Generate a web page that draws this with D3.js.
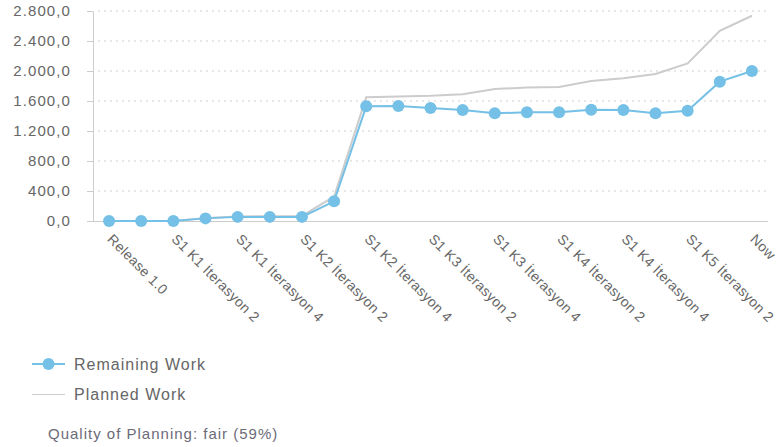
<!DOCTYPE html>
<html>
<head>
<meta charset="utf-8">
<script src="https://cdn.jsdelivr.net/npm/d3@7"></script>
<style>
  body { margin: 0; background: #fff; font-family: "Liberation Sans", Arial, sans-serif; }
  .grid line { stroke: #cfcfcf; stroke-dasharray: 2,4; }
  .axis text { fill: #666; font-size: 14px; letter-spacing: 0.35px; font-family: "Liberation Sans", Arial, sans-serif; }
  .axis.y text { font-size: 15px; letter-spacing: 1.1px; }
</style>
</head>
<body>
<div id="chart"></div>
<script>
// x categories (one per iteration), only every other one gets a label
const iterations = [
  "Release 1.0", "S1 K1 İterasyon 1", "S1 K1 İterasyon 2", "S1 K1 İterasyon 3", "S1 K1 İterasyon 4",
  "S1 K2 İterasyon 1", "S1 K2 İterasyon 2", "S1 K2 İterasyon 3", "S1 K2 İterasyon 4",
  "S1 K3 İterasyon 1", "S1 K3 İterasyon 2", "S1 K3 İterasyon 3", "S1 K3 İterasyon 4",
  "S1 K4 İterasyon 1", "S1 K4 İterasyon 2", "S1 K4 İterasyon 3", "S1 K4 İterasyon 4",
  "S1 K5 İterasyon 1", "S1 K5 İterasyon 2", "S1 K5 İterasyon 3", "Now"
]
const remainingWork = [0, 0, 0, 35, 55, 55, 55, 263, 1529, 1533, 1507, 1480, 1436, 1449, 1449, 1484, 1480, 1436, 1471, 1858, 2000]
const plannedWork = [0, 0, 0, 40, 60, 65, 67, 324, 1649, 1660, 1670, 1690, 1760, 1780, 1787, 1867, 1902, 1960, 2102, 2537, 2737]
const yTicks = [0, 400, 800, 1200, 1600, 2000, 2400, 2800]
const qualityText = "Quality of Planning: fair (59%)"

const width = 779
const height = 447
const margin = {top: 11, left: 93, right: 11}
const plotBottom = 221
const blue = "#74c0e6"
const grey = "#cccccc"

const locale = d3.formatLocale({decimal: ",", thousands: ".", grouping: [3], currency: ["", ""]})
const fmt = locale.format(",.1f")

const svg = d3.select('#chart').append("svg")
  .attr("width", width)
  .attr("height", height)

const xScale = d3.scalePoint()
  .domain(iterations)
  .range([margin.left, width - margin.right])
  .padding(0.5)

const yScale = d3.scaleLinear()
  .domain([0, 2800])
  .range([plotBottom, margin.top])

// dotted grid lines
svg.append("g")
  .attr("class", "grid")
  .selectAll("line")
  .data(yTicks.slice(1))
  .join("line")
  .attr("x1", margin.left + 5)
  .attr("x2", width - margin.right - 2)
  .attr("y1", d => yScale(d))
  .attr("y2", d => yScale(d))

// y axis
const yAxis = svg.append("g")
  .attr("class", "axis y")
  .attr("transform", "translate(" + margin.left + ",0)")
  .call(d3.axisLeft(yScale).tickValues(yTicks).tickFormat(fmt).tickSize(6).tickPadding(16))
yAxis.select(".domain").attr("stroke", grey)
yAxis.selectAll(".tick line").attr("stroke", grey)

// x axis
const labelled = iterations.filter((d, i) => i % 2 === 0)
const xAxis = svg.append("g")
  .attr("class", "axis x")
  .attr("transform", "translate(0," + plotBottom + ")")
  .call(d3.axisBottom(xScale).tickValues(labelled).tickSize(0).tickSizeOuter(0))
xAxis.select(".domain")
  .attr("stroke", grey)
  .attr("d", "M" + (margin.left - 6) + ",0.5H" + (width - margin.right))
xAxis.selectAll(".tick text")
  .attr("text-anchor", "start")
  .attr("dy", null)
  .attr("y", 0)
  .attr("transform", "translate(-3,19) rotate(45)")

// planned work line
svg.append("path")
  .datum(plannedWork)
  .attr("fill", "none")
  .attr("stroke", grey)
  .attr("stroke-width", 2)
  .attr("d", d3.line()
    .x((d, i) => xScale(iterations[i]))
    .y(d => yScale(d)))

// remaining work line + dots
svg.append("path")
  .datum(remainingWork)
  .attr("fill", "none")
  .attr("stroke", blue)
  .attr("stroke-width", 2)
  .attr("d", d3.line()
    .x((d, i) => xScale(iterations[i]))
    .y(d => yScale(d)))

svg.append("g")
  .selectAll("circle")
  .data(remainingWork)
  .join("circle")
  .attr("cx", (d, i) => xScale(iterations[i]))
  .attr("cy", d => yScale(d))
  .attr("r", 6)
  .attr("fill", blue)

// legend
const legend = svg.append("g").attr("class", "legend")
  .style("font-size", "16px").style("letter-spacing", "1px").style("fill", "#666")
legend.append("line")
  .attr("x1", 32).attr("x2", 65).attr("y1", 364).attr("y2", 364)
  .attr("stroke", blue).attr("stroke-width", 2)
legend.append("circle")
  .attr("cx", 48.5).attr("cy", 364).attr("r", 6).attr("fill", blue)
legend.append("text")
  .attr("x", 74).attr("y", 370)
  .text("Remaining Work")
legend.append("line")
  .attr("x1", 32).attr("x2", 65).attr("y1", 394.5).attr("y2", 394.5)
  .attr("stroke", grey).attr("stroke-width", 1)
legend.append("text")
  .attr("x", 74).attr("y", 400)
  .text("Planned Work")

svg.append("text")
  .attr("x", 48).attr("y", 439)
  .style("font-size", "15px").style("letter-spacing", "1px").style("fill", "#6b6b78")
  .text(qualityText)
</script>
</body>
</html>
